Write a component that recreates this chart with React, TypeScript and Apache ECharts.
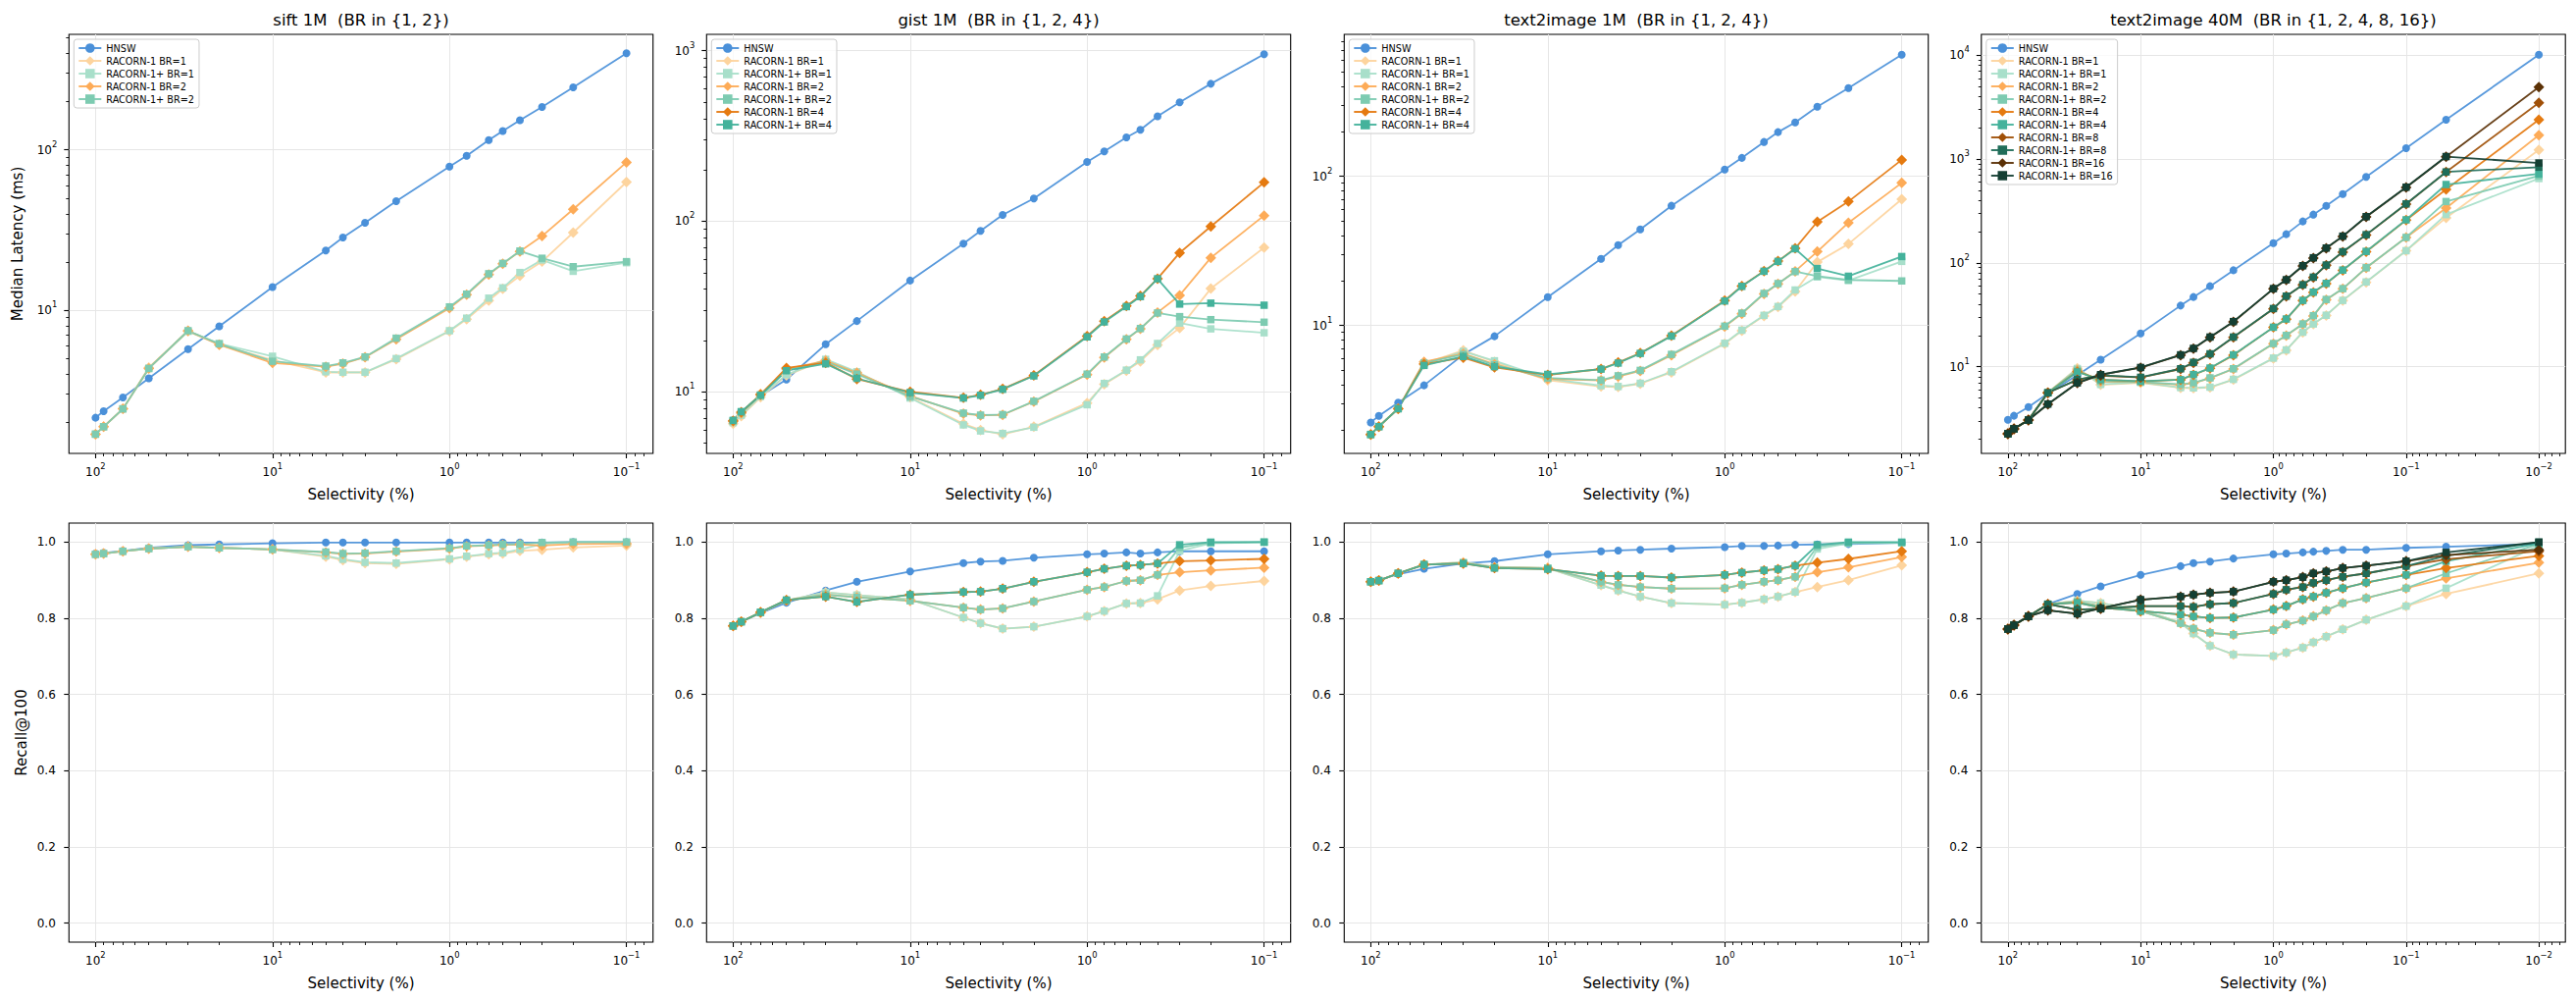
import React, { useEffect, useRef } from 'react';
import * as echarts from 'echarts';

// ---------------- selectivity (x) ----------------
const SEL_1M = [100, 90, 70, 50, 30, 20, 10, 5, 4, 3, 2, 1, 0.8, 0.6, 0.5, 0.4, 0.3, 0.2, 0.1];
const SEL_40M = [100, 90, 70, 50, 30, 20, 10, 5, 4, 3, 2, 1, 0.8, 0.6, 0.5, 0.4, 0.3, 0.2, 0.1, 0.05, 0.01];

const X_TICKS_1M = [100, 10, 1, 0.1];
const X_TICKS_40M = [100, 10, 1, 0.1, 0.01];
const RECALL_TICKS = [0, 0.2, 0.4, 0.6, 0.8, 1.0];

// ---------------- sift 1M ----------------
const SIFT_LAT_HNSW = [2.14, 2.35, 2.86, 3.77, 5.73, 7.94, 13.96, 23.6, 28.4, 35.1, 47.9, 78.6, 91.9, 115, 131, 153, 185, 245, 400];
const SIFT_LAT_R1_BR1 = [1.69, 1.88, 2.43, 4.4, 7.4, 6.1, 4.9, 4.1, 4.1, 4.1, 4.95, 7.4, 8.8, 11.5, 13.6, 16.4, 20.1, 30.5, 63];
const SIFT_LAT_R1P_BR1 = [1.69, 1.88, 2.43, 4.34, 7.4, 6.2, 5.17, 4.14, 4.11, 4.11, 5.0, 7.46, 8.93, 11.9, 13.8, 17.2, 20.6, 17.5, 19.8];
const SIFT_LAT_R1_BR2 = [1.69, 1.88, 2.43, 4.34, 7.46, 6.1, 4.7, 4.45, 4.65, 5.1, 6.6, 10.3, 12.5, 16.7, 19.5, 23.3, 29.0, 42.6, 83.6];
const SIFT_LAT_R1P_BR2 = [1.69, 1.88, 2.43, 4.34, 7.46, 6.18, 4.81, 4.49, 4.7, 5.12, 6.7, 10.5, 12.6, 16.9, 19.6, 23.4, 21.1, 18.7, 20.1];

const SIFT_REC_HNSW = [0.97, 0.972, 0.977, 0.985, 0.992, 0.994, 0.997, 0.999, 0.999, 0.999, 0.999, 0.999, 0.999, 0.999, 0.999, 0.999, 0.999, 1.0, 1.0];
const SIFT_REC_R1_BR1 = [0.968, 0.97, 0.976, 0.983, 0.988, 0.985, 0.981, 0.962, 0.953, 0.945, 0.943, 0.955, 0.962, 0.968, 0.97, 0.977, 0.98, 0.986, 0.991];
const SIFT_REC_R1P_BR1 = [0.968, 0.97, 0.976, 0.983, 0.988, 0.985, 0.981, 0.964, 0.955, 0.947, 0.945, 0.956, 0.963, 0.97, 0.972, 0.981, 0.995, 1.0, 1.0];
const SIFT_REC_R1_BR2 = [0.968, 0.97, 0.976, 0.983, 0.988, 0.985, 0.981, 0.973, 0.969, 0.97, 0.975, 0.983, 0.989, 0.991, 0.993, 0.994, 0.991, 0.995, 0.996];
const SIFT_REC_R1P_BR2 = [0.968, 0.97, 0.976, 0.983, 0.988, 0.985, 0.981, 0.974, 0.97, 0.971, 0.976, 0.984, 0.99, 0.992, 0.994, 0.995, 0.999, 1.0, 1.0];

// ---------------- gist 1M ----------------
const GIST_LAT_HNSW = [6.81, 7.6, 9.48, 11.8, 19.0, 26.0, 44.9, 73.9, 87.8, 109, 136, 223, 257, 310, 344, 413, 498, 640, 953];
const GIST_LAT_R1_BR1 = [6.5, 7.2, 9.3, 12.5, 15.4, 13.0, 9.3, 6.5, 5.97, 5.63, 6.24, 8.6, 11.1, 13.3, 15.1, 18.8, 23.7, 40.3, 70.1];
const GIST_LAT_R1P_BR1 = [6.6, 7.3, 9.4, 12.6, 15.5, 13.1, 9.2, 6.4, 5.9, 5.7, 6.2, 8.4, 11.2, 13.4, 15.4, 19.2, 25.3, 23.4, 22.2];
const GIST_LAT_R1_BR2 = [6.7, 7.5, 9.7, 13.6, 15.2, 12.9, 9.48, 7.44, 7.28, 7.33, 8.76, 12.6, 15.9, 20.3, 23.4, 29.2, 36.8, 61.1, 108];
const GIST_LAT_R1P_BR2 = [6.75, 7.55, 9.6, 13.4, 15.0, 12.7, 9.4, 7.5, 7.3, 7.35, 8.8, 12.7, 16.0, 20.4, 23.5, 29.0, 27.6, 26.5, 25.6];
const GIST_LAT_R1_BR4 = [6.76, 7.6, 9.6, 13.8, 14.8, 11.9, 10.0, 9.23, 9.6, 10.4, 12.5, 21.2, 26.0, 31.9, 36.5, 46.1, 65.3, 93.3, 169];
const GIST_LAT_R1P_BR4 = [6.8, 7.65, 9.55, 13.3, 14.6, 12.0, 9.9, 9.2, 9.55, 10.35, 12.4, 21.0, 25.7, 31.6, 36.2, 46.0, 32.7, 33.1, 32.2];

const GIST_REC_HNSW = [0.78, 0.791, 0.814, 0.841, 0.873, 0.896, 0.923, 0.945, 0.949, 0.951, 0.959, 0.968, 0.97, 0.973, 0.97, 0.973, 0.976, 0.976, 0.976];
const GIST_REC_R1_BR1 = [0.78, 0.791, 0.815, 0.847, 0.868, 0.861, 0.85, 0.802, 0.787, 0.773, 0.778, 0.805, 0.819, 0.839, 0.84, 0.85, 0.873, 0.885, 0.898];
const GIST_REC_R1P_BR1 = [0.78, 0.791, 0.815, 0.847, 0.868, 0.861, 0.85, 0.802, 0.787, 0.773, 0.778, 0.805, 0.819, 0.839, 0.84, 0.859, 0.977, 0.997, 1.0];
const GIST_REC_R1_BR2 = [0.78, 0.791, 0.815, 0.847, 0.862, 0.855, 0.846, 0.828, 0.823, 0.826, 0.844, 0.875, 0.882, 0.898, 0.9, 0.914, 0.921, 0.926, 0.933];
const GIST_REC_R1P_BR2 = [0.78, 0.791, 0.815, 0.847, 0.862, 0.855, 0.846, 0.828, 0.823, 0.826, 0.844, 0.875, 0.882, 0.898, 0.9, 0.914, 0.986, 0.999, 1.0];
const GIST_REC_R1_BR4 = [0.78, 0.791, 0.816, 0.848, 0.857, 0.843, 0.862, 0.869, 0.87, 0.878, 0.896, 0.921, 0.93, 0.938, 0.94, 0.944, 0.95, 0.952, 0.956];
const GIST_REC_R1P_BR4 = [0.78, 0.791, 0.816, 0.848, 0.857, 0.843, 0.862, 0.869, 0.87, 0.878, 0.896, 0.921, 0.93, 0.938, 0.94, 0.944, 0.993, 1.0, 1.0];

// ---------------- text2image 1M ----------------
const T2I1_LAT_HNSW = [2.24, 2.48, 3.04, 3.97, 6.38, 8.47, 15.5, 28.0, 34.6, 44.1, 63.5, 111, 133, 170, 198, 230, 293, 391, 654];
const T2I1_LAT_R1_BR1 = [1.86, 2.1, 2.77, 5.56, 6.81, 5.7, 4.3, 3.9, 3.87, 4.07, 4.85, 7.54, 9.23, 11.6, 13.3, 16.9, 26.6, 35.2, 70.2];
const T2I1_LAT_R1P_BR1 = [1.86, 2.1, 2.77, 5.5, 6.7, 5.8, 4.4, 3.95, 3.9, 4.1, 4.9, 7.6, 9.3, 11.7, 13.4, 17.3, 21.2, 20.0, 26.9];
const T2I1_LAT_R1_BR2 = [1.86, 2.1, 2.77, 5.71, 6.47, 5.5, 4.39, 4.29, 4.55, 4.96, 6.31, 9.84, 12.0, 16.3, 19.0, 23.1, 31.3, 48.9, 90.4];
const T2I1_LAT_R1P_BR2 = [1.86, 2.1, 2.77, 5.6, 6.4, 5.45, 4.45, 4.3, 4.6, 5.0, 6.4, 9.9, 12.1, 16.4, 19.1, 23.0, 21.4, 20.2, 19.9];
const T2I1_LAT_R1_BR4 = [1.86, 2.1, 2.77, 5.51, 6.09, 5.24, 4.66, 5.11, 5.65, 6.54, 8.55, 14.7, 18.4, 23.2, 27.0, 32.9, 49.6, 67.8, 129];
const T2I1_LAT_R1P_BR4 = [1.86, 2.1, 2.77, 5.4, 6.2, 5.3, 4.7, 5.1, 5.6, 6.5, 8.5, 14.6, 18.3, 23.1, 26.9, 32.7, 24.1, 21.4, 29.0];

const T2I1_REC_HNSW = [0.896, 0.9, 0.916, 0.93, 0.944, 0.95, 0.968, 0.976, 0.978, 0.98, 0.983, 0.987, 0.99, 0.99, 0.991, 0.993, 0.994, 0.995, 0.998];
const T2I1_REC_R1_BR1 = [0.896, 0.899, 0.918, 0.941, 0.947, 0.935, 0.932, 0.887, 0.873, 0.857, 0.84, 0.836, 0.841, 0.85, 0.857, 0.869, 0.882, 0.9, 0.939];
const T2I1_REC_R1P_BR1 = [0.896, 0.899, 0.918, 0.941, 0.947, 0.935, 0.932, 0.887, 0.873, 0.857, 0.84, 0.836, 0.841, 0.85, 0.857, 0.869, 0.982, 0.997, 0.998];
const T2I1_REC_R1_BR2 = [0.896, 0.899, 0.918, 0.941, 0.945, 0.933, 0.932, 0.896, 0.888, 0.882, 0.878, 0.879, 0.888, 0.896, 0.9, 0.909, 0.921, 0.934, 0.961];
const T2I1_REC_R1P_BR2 = [0.896, 0.899, 0.918, 0.941, 0.945, 0.933, 0.932, 0.896, 0.888, 0.882, 0.878, 0.879, 0.888, 0.896, 0.9, 0.909, 0.988, 0.998, 0.999];
const T2I1_REC_R1_BR4 = [0.896, 0.899, 0.918, 0.941, 0.944, 0.932, 0.929, 0.912, 0.911, 0.911, 0.907, 0.914, 0.92, 0.926, 0.929, 0.938, 0.946, 0.956, 0.976];
const T2I1_REC_R1P_BR4 = [0.896, 0.899, 0.918, 0.941, 0.944, 0.932, 0.929, 0.912, 0.911, 0.911, 0.907, 0.914, 0.92, 0.926, 0.929, 0.938, 0.993, 1.0, 1.0];

// ---------------- text2image 40M ----------------
const T2I40_LAT_HNSW = [3.08, 3.37, 4.09, 5.5, 8.3, 11.7, 20.9, 38.8, 46.9, 59.6, 84.9, 155, 189, 251, 292, 355, 461, 673, 1274, 2393, 10150];
const T2I40_LAT_R1_BR1 = [2.26, 2.52, 3.06, 5.6, 9.65, 6.7, 7.0, 6.26, 6.2, 6.3, 7.5, 12.0, 14.4, 21.4, 25.7, 31.2, 43.3, 65.0, 131, 272, 1227];
const T2I40_LAT_R1P_BR1 = [2.26, 2.52, 3.06, 5.6, 9.6, 6.75, 7.05, 6.3, 6.25, 6.35, 7.55, 12.1, 14.5, 21.5, 25.8, 31.3, 43.5, 65.5, 131, 292, 650];
const T2I40_LAT_R1_BR2 = [2.26, 2.52, 3.06, 5.6, 9.3, 7.2, 7.1, 6.7, 6.95, 7.74, 9.5, 16.6, 19.9, 25.7, 30.8, 44.2, 56.2, 89.4, 176, 337, 1703];
const T2I40_LAT_R1P_BR2 = [2.26, 2.52, 3.06, 5.6, 9.25, 7.25, 7.15, 6.75, 7.0, 7.8, 9.55, 16.7, 20.0, 25.8, 31.0, 44.4, 56.5, 89.8, 176, 390, 690];
const T2I40_LAT_R1_BR4 = [2.26, 2.52, 3.06, 5.6, 8.96, 7.48, 7.23, 7.48, 8.34, 9.65, 12.9, 23.9, 28.6, 43.3, 51.9, 63.1, 84.9, 128, 258, 511, 2393];
const T2I40_LAT_R1P_BR4 = [2.26, 2.52, 3.06, 5.6, 8.9, 7.5, 7.25, 7.5, 8.4, 9.7, 13.0, 24.0, 28.8, 43.5, 52.2, 63.5, 85.3, 129, 260, 569, 720];
const T2I40_LAT_R1_BR8 = [2.26, 2.52, 3.06, 5.6, 7.48, 8.2, 7.87, 9.5, 10.9, 13.2, 19.2, 36.1, 47.6, 61.3, 72.5, 94.8, 127, 186, 368, 750, 3490];
const T2I40_LAT_R1P_BR8 = [2.26, 2.52, 3.06, 5.6, 7.5, 8.25, 7.9, 9.55, 11.0, 13.3, 19.3, 36.3, 47.8, 61.6, 72.9, 95.3, 128, 187, 370, 752, 836];
const T2I40_LAT_R1_BR16 = [2.26, 2.52, 3.06, 4.34, 6.95, 8.34, 9.78, 12.9, 14.9, 19.2, 27.0, 56.2, 68.4, 93.4, 111, 138, 180, 277, 533, 1054, 4944];
const T2I40_LAT_R1P_BR16 = [2.26, 2.52, 3.06, 4.36, 6.98, 8.38, 9.82, 13.0, 15.0, 19.3, 27.2, 56.5, 68.8, 93.9, 112, 139, 181, 279, 536, 1058, 918];

const T2I40_REC_HNSW = [0.772, 0.784, 0.805, 0.837, 0.864, 0.884, 0.914, 0.937, 0.945, 0.949, 0.957, 0.968, 0.97, 0.973, 0.975, 0.977, 0.98, 0.98, 0.985, 0.988, 0.995];
const T2I40_REC_R1_BR1 = [0.772, 0.782, 0.805, 0.837, 0.846, 0.84, 0.823, 0.789, 0.76, 0.728, 0.705, 0.701, 0.71, 0.723, 0.737, 0.752, 0.771, 0.796, 0.832, 0.864, 0.918];
const T2I40_REC_R1P_BR1 = [0.772, 0.782, 0.805, 0.837, 0.846, 0.84, 0.823, 0.789, 0.76, 0.728, 0.705, 0.701, 0.71, 0.723, 0.737, 0.752, 0.771, 0.796, 0.832, 0.879, 0.991];
const T2I40_REC_R1_BR2 = [0.772, 0.782, 0.805, 0.837, 0.843, 0.832, 0.819, 0.787, 0.773, 0.762, 0.757, 0.769, 0.784, 0.794, 0.805, 0.821, 0.84, 0.853, 0.879, 0.905, 0.946];
const T2I40_REC_R1P_BR2 = [0.772, 0.782, 0.805, 0.837, 0.843, 0.832, 0.819, 0.787, 0.773, 0.762, 0.757, 0.769, 0.784, 0.794, 0.805, 0.821, 0.84, 0.853, 0.879, 0.918, 0.995];
const T2I40_REC_R1_BR4 = [0.772, 0.782, 0.805, 0.837, 0.841, 0.828, 0.819, 0.81, 0.805, 0.801, 0.802, 0.823, 0.832, 0.85, 0.857, 0.867, 0.879, 0.894, 0.914, 0.932, 0.964];
const T2I40_REC_R1P_BR4 = [0.772, 0.782, 0.805, 0.837, 0.841, 0.828, 0.819, 0.81, 0.805, 0.801, 0.802, 0.823, 0.832, 0.85, 0.857, 0.867, 0.879, 0.894, 0.914, 0.95, 0.997];
const T2I40_REC_R1_BR8 = [0.772, 0.782, 0.805, 0.837, 0.823, 0.825, 0.832, 0.832, 0.83, 0.837, 0.84, 0.864, 0.875, 0.882, 0.893, 0.9, 0.909, 0.918, 0.937, 0.955, 0.976];
const T2I40_REC_R1P_BR8 = [0.772, 0.782, 0.805, 0.837, 0.823, 0.825, 0.832, 0.832, 0.83, 0.837, 0.84, 0.864, 0.875, 0.882, 0.893, 0.9, 0.909, 0.918, 0.937, 0.964, 1.0];
const T2I40_REC_R1_BR16 = [0.772, 0.782, 0.805, 0.821, 0.812, 0.826, 0.849, 0.857, 0.862, 0.867, 0.87, 0.896, 0.9, 0.908, 0.918, 0.923, 0.932, 0.938, 0.95, 0.966, 0.98];
const T2I40_REC_R1P_BR16 = [0.772, 0.782, 0.805, 0.821, 0.812, 0.826, 0.849, 0.857, 0.862, 0.867, 0.87, 0.896, 0.9, 0.908, 0.918, 0.923, 0.932, 0.938, 0.95, 0.973, 1.0];

// ---------------- panels ----------------
type Method = { name: string; lat: number[]; rec: number[] };

const PANELS: { title: string; sel: number[]; xTicks: number[]; xLog: number[]; yLog: number[]; yTicks: number[]; methods: Method[] }[] = [
  {
    title: 'sift 1M  (BR in {1, 2})', sel: SEL_1M, xTicks: X_TICKS_1M, xLog: [-1.15, 2.15], yLog: [0.108, 2.72], yTicks: [10, 100],
    methods: [
      { name: 'HNSW', lat: SIFT_LAT_HNSW, rec: SIFT_REC_HNSW },
      { name: 'RACORN-1 BR=1', lat: SIFT_LAT_R1_BR1, rec: SIFT_REC_R1_BR1 },
      { name: 'RACORN-1+ BR=1', lat: SIFT_LAT_R1P_BR1, rec: SIFT_REC_R1P_BR1 },
      { name: 'RACORN-1 BR=2', lat: SIFT_LAT_R1_BR2, rec: SIFT_REC_R1_BR2 },
      { name: 'RACORN-1+ BR=2', lat: SIFT_LAT_R1P_BR2, rec: SIFT_REC_R1P_BR2 },
    ],
  },
  {
    title: 'gist 1M  (BR in {1, 2, 4})', sel: SEL_1M, xTicks: X_TICKS_1M, xLog: [-1.15, 2.15], yLog: [0.639, 3.096], yTicks: [10, 100, 1000],
    methods: [
      { name: 'HNSW', lat: GIST_LAT_HNSW, rec: GIST_REC_HNSW },
      { name: 'RACORN-1 BR=1', lat: GIST_LAT_R1_BR1, rec: GIST_REC_R1_BR1 },
      { name: 'RACORN-1+ BR=1', lat: GIST_LAT_R1P_BR1, rec: GIST_REC_R1P_BR1 },
      { name: 'RACORN-1 BR=2', lat: GIST_LAT_R1_BR2, rec: GIST_REC_R1_BR2 },
      { name: 'RACORN-1+ BR=2', lat: GIST_LAT_R1P_BR2, rec: GIST_REC_R1P_BR2 },
      { name: 'RACORN-1 BR=4', lat: GIST_LAT_R1_BR4, rec: GIST_REC_R1_BR4 },
      { name: 'RACORN-1+ BR=4', lat: GIST_LAT_R1P_BR4, rec: GIST_REC_R1P_BR4 },
    ],
  },
  {
    title: 'text2image 1M  (BR in {1, 2, 4})', sel: SEL_1M, xTicks: X_TICKS_1M, xLog: [-1.15, 2.15], yLog: [0.1425, 2.952], yTicks: [10, 100],
    methods: [
      { name: 'HNSW', lat: T2I1_LAT_HNSW, rec: T2I1_REC_HNSW },
      { name: 'RACORN-1 BR=1', lat: T2I1_LAT_R1_BR1, rec: T2I1_REC_R1_BR1 },
      { name: 'RACORN-1+ BR=1', lat: T2I1_LAT_R1P_BR1, rec: T2I1_REC_R1P_BR1 },
      { name: 'RACORN-1 BR=2', lat: T2I1_LAT_R1_BR2, rec: T2I1_REC_R1_BR2 },
      { name: 'RACORN-1+ BR=2', lat: T2I1_LAT_R1P_BR2, rec: T2I1_REC_R1P_BR2 },
      { name: 'RACORN-1 BR=4', lat: T2I1_LAT_R1_BR4, rec: T2I1_REC_R1_BR4 },
      { name: 'RACORN-1+ BR=4', lat: T2I1_LAT_R1P_BR4, rec: T2I1_REC_R1P_BR4 },
    ],
  },
  {
    title: 'text2image 40M  (BR in {1, 2, 4, 8, 16})', sel: SEL_40M, xTicks: X_TICKS_40M, xLog: [-2.2, 2.2], yLog: [0.1645, 4.202], yTicks: [10, 100, 1000, 10000],
    methods: [
      { name: 'HNSW', lat: T2I40_LAT_HNSW, rec: T2I40_REC_HNSW },
      { name: 'RACORN-1 BR=1', lat: T2I40_LAT_R1_BR1, rec: T2I40_REC_R1_BR1 },
      { name: 'RACORN-1+ BR=1', lat: T2I40_LAT_R1P_BR1, rec: T2I40_REC_R1P_BR1 },
      { name: 'RACORN-1 BR=2', lat: T2I40_LAT_R1_BR2, rec: T2I40_REC_R1_BR2 },
      { name: 'RACORN-1+ BR=2', lat: T2I40_LAT_R1P_BR2, rec: T2I40_REC_R1P_BR2 },
      { name: 'RACORN-1 BR=4', lat: T2I40_LAT_R1_BR4, rec: T2I40_REC_R1_BR4 },
      { name: 'RACORN-1+ BR=4', lat: T2I40_LAT_R1P_BR4, rec: T2I40_REC_R1P_BR4 },
      { name: 'RACORN-1 BR=8', lat: T2I40_LAT_R1_BR8, rec: T2I40_REC_R1_BR8 },
      { name: 'RACORN-1+ BR=8', lat: T2I40_LAT_R1P_BR8, rec: T2I40_REC_R1P_BR8 },
      { name: 'RACORN-1 BR=16', lat: T2I40_LAT_R1_BR16, rec: T2I40_REC_R1_BR16 },
      { name: 'RACORN-1+ BR=16', lat: T2I40_LAT_R1P_BR16, rec: T2I40_REC_R1P_BR16 },
    ],
  },
];

const STYLES: Record<string, { color: string; symbol: string; size: number }> = {
  'HNSW': { color: '#4a90d9', symbol: 'circle', size: 8 },
  'RACORN-1 BR=1': { color: '#fdd49e', symbol: 'diamond', size: 11 },
  'RACORN-1+ BR=1': { color: '#a8dfca', symbol: 'rect', size: 7.5 },
  'RACORN-1 BR=2': { color: '#fdab57', symbol: 'diamond', size: 11 },
  'RACORN-1+ BR=2': { color: '#7dcbb1', symbol: 'rect', size: 7.5 },
  'RACORN-1 BR=4': { color: '#e57a10', symbol: 'diamond', size: 11 },
  'RACORN-1+ BR=4': { color: '#44b29b', symbol: 'rect', size: 7.5 },
  'RACORN-1 BR=8': { color: '#a05008', symbol: 'diamond', size: 11 },
  'RACORN-1+ BR=8': { color: '#1f6d59', symbol: 'rect', size: 7.5 },
  'RACORN-1 BR=16': { color: '#5b3106', symbol: 'diamond', size: 11 },
  'RACORN-1+ BR=16': { color: '#143f33', symbol: 'rect', size: 7.5 },
};

// ---------------- layout ----------------
const FONT = 'DejaVu Sans';
const GRID_LEFT = [70.3, 720.3, 1370.3, 2019.8];
const GRID_W = 595.4;
const ROW_TOP = [35, 533];
const GRID_H = 427;
const GRID_COLOR = '#e6e6e6';

function logLabel(v: number) {
  const e = Math.round(Math.log10(v));
  const s = e < 0 ? '\u2212' + String(-e) : String(e);
  return '{b|10}{sup|' + s + '}';
}
const LOG_RICH = {
  b: { fontSize: 12, lineHeight: 20, fontFamily: FONT, color: '#000' },
  sup: { fontSize: 8.4, lineHeight: 10, verticalAlign: 'top', fontFamily: FONT, color: '#000' },
};

function minorLogTicks(lo: number, hi: number) {
  const out: number[] = [];
  for (let k = Math.floor(lo); k <= Math.ceil(hi); k++) {
    for (let m = 2; m <= 9; m++) {
      const v = m * Math.pow(10, k);
      const l = Math.log10(v);
      if (l >= lo && l <= hi) out.push(v);
    }
  }
  return out;
}

function buildOption() {
  const grids: any[] = [];
  const xAxes: any[] = [];
  const yAxes: any[] = [];
  const series: any[] = [];
  const legends: any[] = [];
  const graphics: any[] = [];
  const tickStyle = { color: '#000', width: 1.1 };

  PANELS.forEach((p, pi) => {
    const axIdx: { x: number; y: number }[] = [];
    [0, 1].forEach((row) => {
      const gi = grids.length;
      grids.push({
        left: GRID_LEFT[pi], top: ROW_TOP[row], width: GRID_W, height: GRID_H,
        show: true, borderColor: '#000', borderWidth: 1.1, backgroundColor: 'transparent',
        containLabel: false, outerBoundsMode: 'none',
      });
      const xMin = Math.pow(10, p.xLog[0]);
      const xMax = Math.pow(10, p.xLog[1]);
      const xi = xAxes.length;
      xAxes.push({
        type: 'log', logBase: 10, gridIndex: gi, position: 'bottom', inverse: true, min: xMin, max: xMax,
        name: 'Selectivity (%)', nameLocation: 'middle', nameGap: 34,
        nameTextStyle: { fontSize: 15, fontFamily: FONT, color: '#000' },
        axisLine: { show: false, onZero: false },
        axisTick: { show: true, customValues: p.xTicks, length: 5, lineStyle: tickStyle },
        axisLabel: { show: true, customValues: p.xTicks, formatter: logLabel, rich: LOG_RICH, margin: 9.4 },
        splitLine: { show: true, lineStyle: { color: GRID_COLOR, width: 1 } },
        minorTick: { show: false }, minorSplitLine: { show: false },
      });
      xAxes.push({
        type: 'log', logBase: 10, gridIndex: gi, position: 'bottom', inverse: true, min: xMin, max: xMax,
        axisLine: { show: false, onZero: false },
        axisTick: { show: true, customValues: minorLogTicks(p.xLog[0], p.xLog[1]), length: 3, lineStyle: { color: '#000', width: 0.9 } },
        axisLabel: { show: false },
        splitLine: { show: false },
      });
      const yi = yAxes.length;
      if (row === 0) {
        const yMin = Math.pow(10, p.yLog[0]);
        const yMax = Math.pow(10, p.yLog[1]);
        yAxes.push({
          type: 'log', logBase: 10, gridIndex: gi, position: 'left', min: yMin, max: yMax,
          name: pi === 0 ? 'Median Latency (ms)' : '', nameLocation: 'middle', nameGap: 44.6, nameRotate: 90,
          nameTextStyle: { fontSize: 15, fontFamily: FONT, color: '#000' },
          axisLine: { show: false, onZero: false },
          axisTick: { show: true, customValues: p.yTicks, length: 5, lineStyle: tickStyle },
          axisLabel: { show: true, customValues: p.yTicks, formatter: logLabel, rich: LOG_RICH, margin: 12 },
          splitLine: { show: true, lineStyle: { color: GRID_COLOR, width: 1 } },
        });
        yAxes.push({
          type: 'log', logBase: 10, gridIndex: gi, position: 'left', min: yMin, max: yMax,
          axisLine: { show: false, onZero: false },
          axisTick: { show: true, customValues: minorLogTicks(p.yLog[0], p.yLog[1]), length: 3, lineStyle: { color: '#000', width: 0.9 } },
          axisLabel: { show: false },
          splitLine: { show: false },
        });
      } else {
        yAxes.push({
          type: 'value', gridIndex: gi, position: 'left', min: -0.05, max: 1.05,
          name: pi === 0 ? 'Recall@100' : '', nameLocation: 'middle', nameGap: 41, nameRotate: 90,
          nameTextStyle: { fontSize: 15, fontFamily: FONT, color: '#000' },
          axisLine: { show: false, onZero: false },
          axisTick: { show: true, customValues: RECALL_TICKS, length: 5, lineStyle: tickStyle },
          axisLabel: {
            show: true, customValues: RECALL_TICKS, margin: 13.5,
            formatter: (v: number) => v.toFixed(1), fontSize: 12, fontFamily: FONT, color: '#000',
          },
          splitLine: { show: true, lineStyle: { color: GRID_COLOR, width: 1 } },
        });
      }
      axIdx.push({ x: xi, y: yi });
    });

    p.methods.forEach((m) => {
      const st = STYLES[m.name];
      [0, 1].forEach((row) => {
        const vals = row === 0 ? m.lat : m.rec;
        series.push({
          type: 'line', name: m.name,
          xAxisIndex: axIdx[row].x, yAxisIndex: axIdx[row].y,
          data: p.sel.map((s, i) => [s, vals[i]]),
          symbol: st.symbol, symbolSize: st.size, showSymbol: true, showAllSymbol: true,
          lineStyle: { color: st.color, width: 1.8, opacity: 0.92 },
          itemStyle: { color: st.color, opacity: 1 },
          emphasis: { disabled: true },
          silent: true,
        });
      });
    });

    legends.push({
      show: true, data: p.methods.map((m) => m.name), orient: 'vertical',
      left: GRID_LEFT[pi] + 5, top: ROW_TOP[0] + 5,
      backgroundColor: 'rgba(255,255,255,0.8)', borderColor: '#cccccc', borderWidth: 1, borderRadius: 3,
      padding: [4, 5, 4, 4], itemWidth: 23, itemHeight: 12, itemGap: 3, selectedMode: false,
      textStyle: { fontSize: 9.7, fontFamily: FONT, color: '#000' },
    });

    graphics.push({
      type: 'text', x: GRID_LEFT[pi] + GRID_W / 2, y: 20,
      style: { text: p.title, fontSize: 16.5, fontFamily: FONT, fill: '#000', align: 'center', verticalAlign: 'middle' },
    });
  });

  return {
    animation: false,
    backgroundColor: '#ffffff',
    textStyle: { fontFamily: FONT },
    grid: grids,
    xAxis: xAxes,
    yAxis: yAxes,
    legend: legends,
    series,
    graphic: graphics,
  };
}

export default function App() {
  const ref = useRef<HTMLDivElement>(null);
  useEffect(() => {
    document.body.style.margin = '0';
    if (!ref.current) return;
    const chart = echarts.init(ref.current, undefined, { renderer: 'svg' });
    chart.setOption(buildOption() as any);
    return () => {
      chart.dispose();
    };
  }, []);
  return <div ref={ref} style={{ width: 2626, height: 1021 }} />;
}
